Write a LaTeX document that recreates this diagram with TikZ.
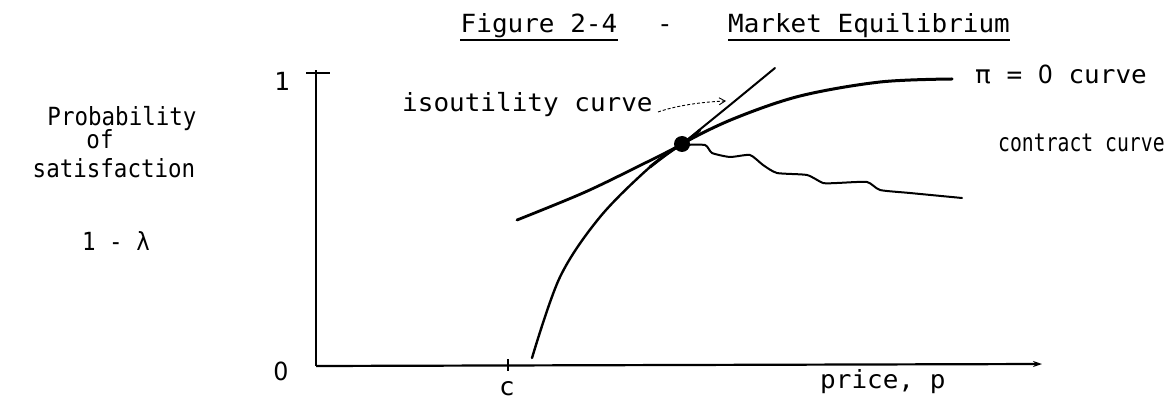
\documentclass[tikz,border=0pt]{standalone}
\usepackage{fontspec}
\newfontfamily\tw[FakeStretch=1.04]{DejaVu Sans Mono}
\newfontfamily\twl[FakeStretch=0.9]{DejaVu Sans Mono}
\newfontfamily\twn[FakeStretch=0.79]{DejaVu Sans Mono}
\newfontfamily\tws[FakeStretch=0.95]{DejaVu Sans}
\usetikzlibrary{arrows.meta}
\begin{document}
\begin{tikzpicture}[x=1pt,y=-1pt,
  lbl/.style={font=\tw\fontsize{25}{30}\selectfont, inner sep=0pt},
  lbll/.style={font=\twl\fontsize{25}{30}\selectfont, inner sep=0pt},
  lbln/.style={font=\twn\fontsize{25}{30}\selectfont, inner sep=0pt},
  axisline/.style={line width=2.2pt},
  curveline/.style={line width=3pt, line cap=round, line join=round},
  thinline/.style={line width=2pt, line cap=round, line join=round},
  uline/.style={line width=1.5pt}
]
\useasboundingbox (0,0) rectangle (1169,403);
\fill[white] (0,0) rectangle (1169,403);

% axes
\coordinate (O) at (316,366);
\coordinate (Ytop) at (316,70);
\coordinate (Xend) at (1042,364);
\draw[axisline] (O) -- (Ytop);
\draw[axisline, -{Stealth[length=9pt,width=6pt]}] (O) -- (Xend);
\coordinate (tl) at (306,73);
\coordinate (tr) at (330,73);
\draw[line width=1.8pt] (tl) -- (tr);
\coordinate (ct) at (508,359);
\coordinate (cb) at (508,371);
\draw[line width=1.2pt] (ct) -- (cb);

% title
\node[lbl, anchor=base] (fig) at (539,33) {Figure 2-4};
\node[lbl, anchor=base] (dash) at (665,33) {-};
\node[lbl, anchor=base] (mkt) at (869,33) {Market Equilibrium};
\coordinate (u1a) at (460,40); \coordinate (u1b) at (618,40);
\coordinate (u2a) at (728,40); \coordinate (u2b) at (1010,40);
\draw[uline] (u1a) -- (u1b);
\draw[uline] (u2a) -- (u2b);

% axis labels
\node[lbl, anchor=base] (one) at (282,91) {1};
\node[lbl, anchor=base] (zero) at (281,380) {\tws 0};
\node[lbll, anchor=base] (prob) at (122,126) {Probability};
\node[lbll, anchor=base] (of) at (100,149) {of};
\node[lbll, anchor=base] (sat) at (114,178) {satisfaction};
\node[lbll, anchor=base] (lam) at (116,251) {1 - λ};
\node[lbl, anchor=base] (c) at (507,395) {c};
\node[lbl, anchor=base west] (price) at (820,388) {price, p};

% curve labels
\node[lbl, anchor=base west] (iso) at (402,112) {isoutility curve};
\node[lbl, anchor=base west] (pi) at (975,84) {π = {\tws 0} curve};
\node[lbln, anchor=base west] (con) at (998,152) {contract curve};

% pi = 0 curve (concave)
\draw[curveline, line width=2.4pt] plot[smooth, tension=0.55] coordinates {(532,358) (560,277) (600,217) (650,167) (682,144)};
\draw[curveline] plot[smooth, tension=0.55] coordinates {(650,167) (682,144) (733,119) (800,96) (880,82) (952,79)};
% isoutility curve (convex)
\draw[curveline, line width=2.8pt] plot[smooth, tension=0.55] coordinates {(517,220) (583,193) (637,167) (682,144) (700,130)};
\draw[curveline, line width=2pt] plot[smooth, tension=0.55] coordinates {(682,144) (730,105) (775,68)};
% contract curve
\draw[thinline] plot[smooth, tension=0.35] coordinates {(682,145) (705,145) (712,153) (730,157) (750,155) (763,165) (777,173) (807,175) (823,183) (837,183) (867,182) (880,190) (910,193) (962,198)};

% equilibrium point
\node[circle, fill=black, minimum size=16pt, inner sep=0pt] (eq) at (682,144) {};

% pointer arrow
\coordinate (pa) at (658,112);
\coordinate (pb) at (726,101);
\draw[line width=0.9pt, dash pattern=on 3pt off 2pt, -{Straight Barb[length=6pt,width=7pt]}] (pa) .. controls (675,106) and (700,102) .. (pb);
\end{tikzpicture}
\end{document}
